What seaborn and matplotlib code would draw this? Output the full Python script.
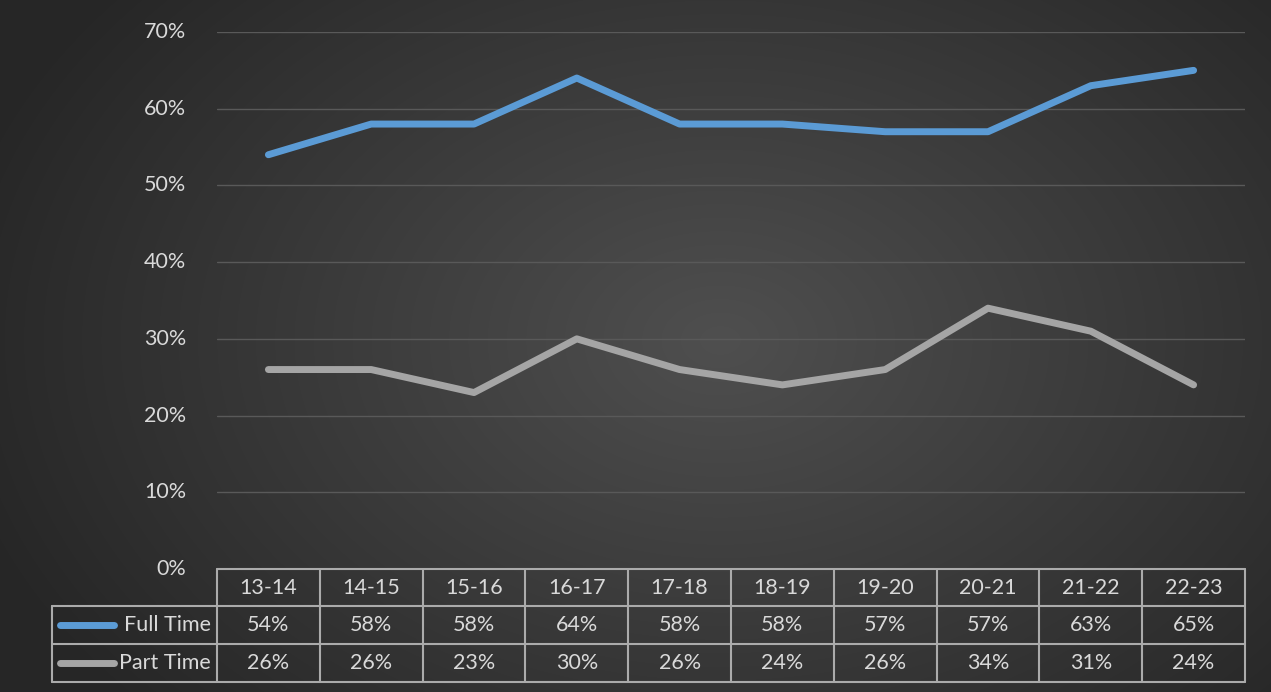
import numpy as np
import pandas as pd
import matplotlib
matplotlib.use("Agg")
import matplotlib.pyplot as plt
from matplotlib.lines import Line2D
import seaborn as sns

seasons = ["13-14", "14-15", "15-16", "16-17", "17-18", "18-19", "19-20", "20-21", "21-22", "22-23"]
full_time = [54, 58, 58, 64, 58, 58, 57, 57, 63, 65]
part_time = [26, 26, 23, 30, 26, 24, 26, 34, 31, 24]
series_names = ["Full Time", "Part Time"]
y_ticks = [0, 10, 20, 30, 40, 50, 60, 70]

colors = {"Full Time": "#5B9BD5", "Part Time": "#A5A5A5"}
text_col = "#D9D9D9"

sns.set_theme(style="dark")
plt.rcParams['font.family'] = ['Lato', 'DejaVu Sans']

W, H = 1271, 692
fig = plt.figure(figsize=(W / 100, H / 100), dpi=100)

# background radial gradient
bg = fig.add_axes([0, 0, 1, 1], zorder=0)
yy, xx = np.mgrid[0:H, 0:W]
cx, cy = 720, 340
r = np.sqrt(((xx - cx) / (W * 0.62)) ** 2 + ((yy - cy) / (H * 0.8)) ** 2)
r = np.clip(r, 0, 1)
v = 0.31 - 0.16 * r
img = np.dstack([v, v, v])
bg.imshow(img, aspect="auto", extent=[0, W, H, 0])
bg.set_xlim(0, W)
bg.set_ylim(H, 0)
bg.axis("off")

def fx(px):
    return px / W

def fy(py):
    return 1 - py / H

left, right, top, bottom = 217, 1245, 32, 569
ax = fig.add_axes([fx(left), fy(bottom), fx(right) - fx(left), fy(top) - fy(bottom)], zorder=1)
ax.patch.set_alpha(0)

df = pd.DataFrame({
    "season": list(range(len(seasons))) * 2,
    "value": full_time + part_time,
    "series": ["Full Time"] * len(seasons) + ["Part Time"] * len(seasons),
})
sns.lineplot(data=df, x="season", y="value", hue="series", palette=colors,
             linewidth=5, ax=ax, legend=False, solid_capstyle="round",
             solid_joinstyle="round", zorder=3)

fs = 15.5
ax.set_xlim(-0.5, len(seasons) - 0.5)
ax.set_ylim(0, 70)
ax.set_yticks(y_ticks)
ax.set_yticklabels([f"{t}%" for t in y_ticks], color=text_col, fontsize=fs)
ax.tick_params(axis="y", length=0, pad=22)
ax.set_xticks([])
ax.set_xlabel("")
ax.set_ylabel("")
for s in ax.spines.values():
    s.set_visible(False)
ax.grid(False)
for t in y_ticks[1:]:
    ax.axhline(t, color="#595959", linewidth=1.0, zorder=1)
for lbl in ax.get_yticklabels():
    lbl.set_verticalalignment("center")

# data table
row_y = [569, 606, 644, 682]
col_w = (right - left) / len(seasons)
col_x = [left + i * col_w for i in range(len(seasons) + 1)]
tbl_left = 52
border = "#ABABAB"
lw = 1.5

def hline(x0, x1, y):
    fig.add_artist(Line2D([fx(x0), fx(x1)], [fy(y), fy(y)], color=border, lw=lw, zorder=5))

def vline(x, y0, y1):
    fig.add_artist(Line2D([fx(x), fx(x)], [fy(y0), fy(y1)], color=border, lw=lw, zorder=5))

hline(left, right, row_y[0])
hline(tbl_left, right, row_y[1])
hline(tbl_left, right, row_y[2])
hline(tbl_left, right, row_y[3])
for x in col_x:
    vline(x, row_y[0], row_y[3])
vline(tbl_left, row_y[1], row_y[3])

for i, s in enumerate(seasons):
    xc = left + (i + 0.5) * col_w
    fig.text(fx(xc), fy((row_y[0] + row_y[1]) / 2), s, ha="center", va="center",
             color=text_col, fontsize=fs, zorder=6)
    fig.text(fx(xc), fy((row_y[1] + row_y[2]) / 2), f"{full_time[i]}%", ha="center", va="center",
             color=text_col, fontsize=fs, zorder=6)
    fig.text(fx(xc), fy((row_y[2] + row_y[3]) / 2), f"{part_time[i]}%", ha="center", va="center",
             color=text_col, fontsize=fs, zorder=6)

for k, name in enumerate(series_names):
    yc = (row_y[k + 1] + row_y[k + 2]) / 2
    fig.add_artist(Line2D([fx(60), fx(114)], [fy(yc), fy(yc)], color=colors[name], lw=5,
                          solid_capstyle="round", zorder=6))
    fig.text(fx(left - 6), fy(yc), name, ha="right", va="center", color=text_col,
             fontsize=fs, zorder=6)

fig.savefig("out.png", dpi=100)
